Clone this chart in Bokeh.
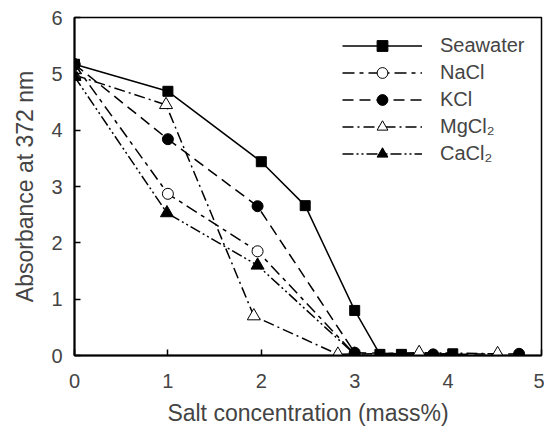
from bokeh.plotting import figure
from bokeh.models import Legend, LegendItem, Range1d, FixedTicker
from bokeh.embed import file_html
from bokeh.resources import INLINE

seawater_x = [0, 1, 2, 2.47, 3, 3.27, 3.5, 4.05]
seawater_y = [5.17, 4.69, 3.44, 2.66, 0.8, 0.02, 0.02, 0.03]
nacl_x = [0, 1, 1.96, 3]
nacl_y = [5.17, 2.87, 1.85, 0.02]
kcl_x = [0, 1, 1.96, 3, 3.84, 4.76]
kcl_y = [5.17, 3.84, 2.65, 0.05, 0.02, 0.03]
mgcl2_x = [0, 0.98, 1.92, 2.82, 3.69, 4.53]
mgcl2_y = [4.98, 4.45, 0.7, 0.02, 0.05, 0.03]
cacl2_x = [0, 0.99, 1.96, 3]
cacl2_y = [4.95, 2.53, 1.6, 0.02]

x_ticks = [0, 1, 2, 3, 4, 5]
y_ticks = [0, 1, 2, 3, 4, 5, 6]

FONT = "Liberation Sans"

p = figure(width=544, height=429, output_backend="svg", toolbar_location=None,
           x_range=Range1d(0, 5), y_range=Range1d(0, 6),
           min_border_left=74, min_border_right=3, min_border_top=17, min_border_bottom=74)
p.grid.visible = False
p.outline_line_color = "black"
p.outline_line_width = 1.5
p.background_fill_color = "white"
p.border_fill_color = "white"

for ax in (p.xaxis[0], p.yaxis[0]):
    ax.axis_line_width = 2
    ax.major_tick_in = 6
    ax.major_tick_out = 0
    ax.minor_tick_line_color = None
    ax.major_tick_line_width = 1.5
    ax.major_label_text_font = FONT
    ax.major_label_text_font_size = "20px"
    ax.axis_label_text_font = FONT
    ax.axis_label_text_font_size = "23px"
    ax.axis_label_text_font_style = "normal"
p.xaxis.ticker = FixedTicker(ticks=x_ticks)
p.yaxis.ticker = FixedTicker(ticks=y_ticks)
p.xaxis.axis_label = "Salt concentration (mass%)"
p.yaxis.axis_label = "Absorbance at 372 nm"
p.xaxis.major_label_standoff = 18
p.xaxis.axis_label_standoff = 9
p.yaxis.major_label_standoff = 12
p.yaxis.axis_label_standoff = 10

lw = 1.5
ms = 11
r_sw_l = p.line(seawater_x, seawater_y, line_color="black", line_width=lw)
r_sw_m = p.scatter(seawater_x, seawater_y, marker="square", size=ms - 1, fill_color="black", line_color="black")
r_na_l = p.line(nacl_x, nacl_y, line_color="black", line_width=lw, line_dash="12 5 4 5")
r_k_l = p.line(kcl_x, kcl_y, line_color="black", line_width=lw, line_dash="11 6")
r_mg_l = p.line(mgcl2_x, mgcl2_y, line_color="black", line_width=lw, line_dash="11 4 2 4")
r_ca_l = p.line(cacl2_x, cacl2_y, line_color="black", line_width=lw, line_dash="11 3 2 3 2 3")
r_na_m = p.scatter(nacl_x, nacl_y, marker="circle", size=ms, fill_color="white", line_color="black", line_width=1)
r_k_m = p.scatter(kcl_x, kcl_y, marker="circle", size=ms, fill_color="black", line_color="black")
r_mg_m = p.scatter(mgcl2_x, mgcl2_y, marker="triangle", size=ms + 2, fill_color="white", line_color="black", line_width=1)
r_ca_m = p.scatter(cacl2_x, cacl2_y, marker="triangle", size=ms + 2, fill_color="black", line_color="black")

legend = Legend(items=[
    LegendItem(label="Seawater", renderers=[r_sw_l, r_sw_m]),
    LegendItem(label="NaCl", renderers=[r_na_l, r_na_m]),
    LegendItem(label="KCl", renderers=[r_k_l, r_k_m]),
    LegendItem(label="MgCl\u2082", renderers=[r_mg_l, r_mg_m]),
    LegendItem(label="CaCl\u2082", renderers=[r_ca_l, r_ca_m]),
], location=(268, 188))
legend.glyph_width = 80
legend.glyph_height = 27
legend.label_height = 21
legend.spacing = 0
legend.padding = 0
legend.margin = 0
legend.label_standoff = 18
legend.label_text_font = FONT
legend.label_text_font_size = "20px"
legend.background_fill_alpha = 0
legend.border_line_color = None
p.add_layout(legend)

open("out.html", "w").write(file_html(p, INLINE))
